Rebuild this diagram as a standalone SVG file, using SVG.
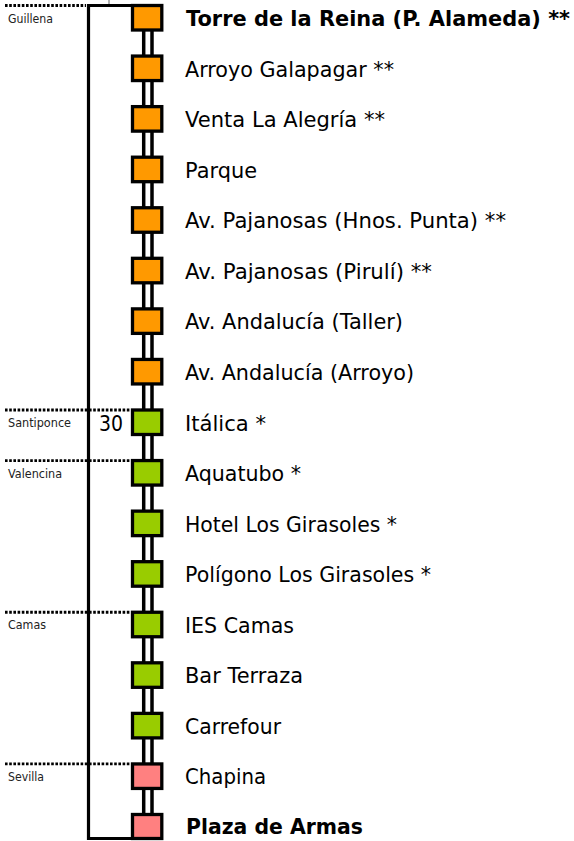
<svg xmlns="http://www.w3.org/2000/svg" width="574" height="841" viewBox="0 0 574 841">
<style>
.st{stroke:#000;stroke-width:3.3}
.o{fill:#FF9900}
.g{fill:#99CC00}
.p{fill:#FF8080}
.lbl{font-family:"DejaVu Sans","Liberation Sans",sans-serif;font-size:22px;fill:#000}
.b{font-weight:bold}
.zone{font-family:"DejaVu Sans","Liberation Sans",sans-serif;font-size:12px;fill:#222}
.dot{stroke:#000;stroke-width:2.8;stroke-dasharray:2.6 1.6;fill:none}
.rail{stroke:#000;stroke-width:3.5}
</style>
<rect width="574" height="841" fill="#fff"/>
<line x1="109" y1="0" x2="109" y2="4" stroke="#999" stroke-width="1.5"/>
<g id="zones">
<line class="dot" x1="5" y1="5.5" x2="86" y2="5.5"/>
<text class="zone" x="8" y="22.5" textLength="45" lengthAdjust="spacingAndGlyphs">Guillena</text>
<line class="dot" x1="5" y1="410" x2="131" y2="410"/>
<text class="zone" x="8" y="427" textLength="63" lengthAdjust="spacingAndGlyphs">Santiponce</text>
<line class="dot" x1="5" y1="460.56" x2="131" y2="460.56"/>
<text class="zone" x="8" y="477.5" textLength="54" lengthAdjust="spacingAndGlyphs">Valencina</text>
<line class="dot" x1="5" y1="612.25" x2="131" y2="612.25"/>
<text class="zone" x="8" y="629.3" textLength="38" lengthAdjust="spacingAndGlyphs">Camas</text>
<line class="dot" x1="5" y1="763.94" x2="131" y2="763.94"/>
<text class="zone" x="8" y="780.8" textLength="36" lengthAdjust="spacingAndGlyphs">Sevilla</text>
</g>
<g id="connectors">
<path d="M132.5,5.5 H88.5 V838.5 H132.5" fill="none" stroke="#000" stroke-width="3.2"/>
<g class="rail">
<line x1="143.7" y1="30" x2="143.7" y2="56.06"/><line x1="152" y1="30" x2="152" y2="56.06"/>
<line x1="143.7" y1="80.56" x2="143.7" y2="106.63"/><line x1="152" y1="80.56" x2="152" y2="106.63"/>
<line x1="143.7" y1="131.13" x2="143.7" y2="157.19"/><line x1="152" y1="131.13" x2="152" y2="157.19"/>
<line x1="143.7" y1="181.69" x2="143.7" y2="207.75"/><line x1="152" y1="181.69" x2="152" y2="207.75"/>
<line x1="143.7" y1="232.25" x2="143.7" y2="258.31"/><line x1="152" y1="232.25" x2="152" y2="258.31"/>
<line x1="143.7" y1="282.81" x2="143.7" y2="308.88"/><line x1="152" y1="282.81" x2="152" y2="308.88"/>
<line x1="143.7" y1="333.38" x2="143.7" y2="359.44"/><line x1="152" y1="333.38" x2="152" y2="359.44"/>
<line x1="143.7" y1="383.94" x2="143.7" y2="410"/><line x1="152" y1="383.94" x2="152" y2="410"/>
<line x1="143.7" y1="434.5" x2="143.7" y2="460.56"/><line x1="152" y1="434.5" x2="152" y2="460.56"/>
<line x1="143.7" y1="485.06" x2="143.7" y2="511.13"/><line x1="152" y1="485.06" x2="152" y2="511.13"/>
<line x1="143.7" y1="535.63" x2="143.7" y2="561.69"/><line x1="152" y1="535.63" x2="152" y2="561.69"/>
<line x1="143.7" y1="586.19" x2="143.7" y2="612.25"/><line x1="152" y1="586.19" x2="152" y2="612.25"/>
<line x1="143.7" y1="636.75" x2="143.7" y2="662.81"/><line x1="152" y1="636.75" x2="152" y2="662.81"/>
<line x1="143.7" y1="687.31" x2="143.7" y2="713.38"/><line x1="152" y1="687.31" x2="152" y2="713.38"/>
<line x1="143.7" y1="737.88" x2="143.7" y2="763.94"/><line x1="152" y1="737.88" x2="152" y2="763.94"/>
<line x1="143.7" y1="788.44" x2="143.7" y2="814.5"/><line x1="152" y1="788.44" x2="152" y2="814.5"/>
</g>
</g>
<g id="s1"><rect class="st o" x="132.5" y="5.5" width="29.3" height="24.5"/><text class="lbl b" x="186" y="26" textLength="384" lengthAdjust="spacingAndGlyphs">Torre de la Reina (P. Alameda) **</text></g>
<g id="s2"><rect class="st o" x="132.5" y="56.06" width="29.3" height="24.5"/><text class="lbl" x="185" y="76.56" textLength="209" lengthAdjust="spacingAndGlyphs">Arroyo Galapagar **</text></g>
<g id="s3"><rect class="st o" x="132.5" y="106.63" width="29.3" height="24.5"/><text class="lbl" x="185" y="127.13" textLength="200" lengthAdjust="spacingAndGlyphs">Venta La Alegría **</text></g>
<g id="s4"><rect class="st o" x="132.5" y="157.19" width="29.3" height="24.5"/><text class="lbl" x="185" y="177.69" textLength="72" lengthAdjust="spacingAndGlyphs">Parque</text></g>
<g id="s5"><rect class="st o" x="132.5" y="207.75" width="29.3" height="24.5"/><text class="lbl" x="185" y="228.25" textLength="321" lengthAdjust="spacingAndGlyphs">Av. Pajanosas (Hnos. Punta) **</text></g>
<g id="s6"><rect class="st o" x="132.5" y="258.31" width="29.3" height="24.5"/><text class="lbl" x="185" y="278.81" textLength="247" lengthAdjust="spacingAndGlyphs">Av. Pajanosas (Pirulí) **</text></g>
<g id="s7"><rect class="st o" x="132.5" y="308.88" width="29.3" height="24.5"/><text class="lbl" x="185" y="329.38" textLength="218" lengthAdjust="spacingAndGlyphs">Av. Andalucía (Taller)</text></g>
<g id="s8"><rect class="st o" x="132.5" y="359.44" width="29.3" height="24.5"/><text class="lbl" x="185" y="379.94" textLength="229" lengthAdjust="spacingAndGlyphs">Av. Andalucía (Arroyo)</text></g>
<g id="s9"><rect class="st g" x="132.5" y="410" width="29.3" height="24.5"/><text class="lbl" x="185" y="430.5" textLength="81" lengthAdjust="spacingAndGlyphs">Itálica *</text><text class="lbl" x="99" y="431" textLength="24" lengthAdjust="spacingAndGlyphs">30</text></g>
<g id="s10"><rect class="st g" x="132.5" y="460.56" width="29.3" height="24.5"/><text class="lbl" x="185" y="481.06" textLength="116" lengthAdjust="spacingAndGlyphs">Aquatubo *</text></g>
<g id="s11"><rect class="st g" x="132.5" y="511.13" width="29.3" height="24.5"/><text class="lbl" x="185" y="531.63" textLength="212" lengthAdjust="spacingAndGlyphs">Hotel Los Girasoles *</text></g>
<g id="s12"><rect class="st g" x="132.5" y="561.69" width="29.3" height="24.5"/><text class="lbl" x="185" y="582.19" textLength="246" lengthAdjust="spacingAndGlyphs">Polígono Los Girasoles *</text></g>
<g id="s13"><rect class="st g" x="132.5" y="612.25" width="29.3" height="24.5"/><text class="lbl" x="185" y="632.75" textLength="109" lengthAdjust="spacingAndGlyphs">IES Camas</text></g>
<g id="s14"><rect class="st g" x="132.5" y="662.81" width="29.3" height="24.5"/><text class="lbl" x="185" y="683.31" textLength="118" lengthAdjust="spacingAndGlyphs">Bar Terraza</text></g>
<g id="s15"><rect class="st g" x="132.5" y="713.38" width="29.3" height="24.5"/><text class="lbl" x="185" y="733.88" textLength="96" lengthAdjust="spacingAndGlyphs">Carrefour</text></g>
<g id="s16"><rect class="st p" x="132.5" y="763.94" width="29.3" height="24.5"/><text class="lbl" x="185" y="784.44" textLength="81" lengthAdjust="spacingAndGlyphs">Chapina</text></g>
<g id="s17"><rect class="st p" x="132.5" y="814.5" width="29.3" height="24"/><text class="lbl b" x="186" y="834" textLength="177" lengthAdjust="spacingAndGlyphs">Plaza de Armas</text></g>
</svg>
